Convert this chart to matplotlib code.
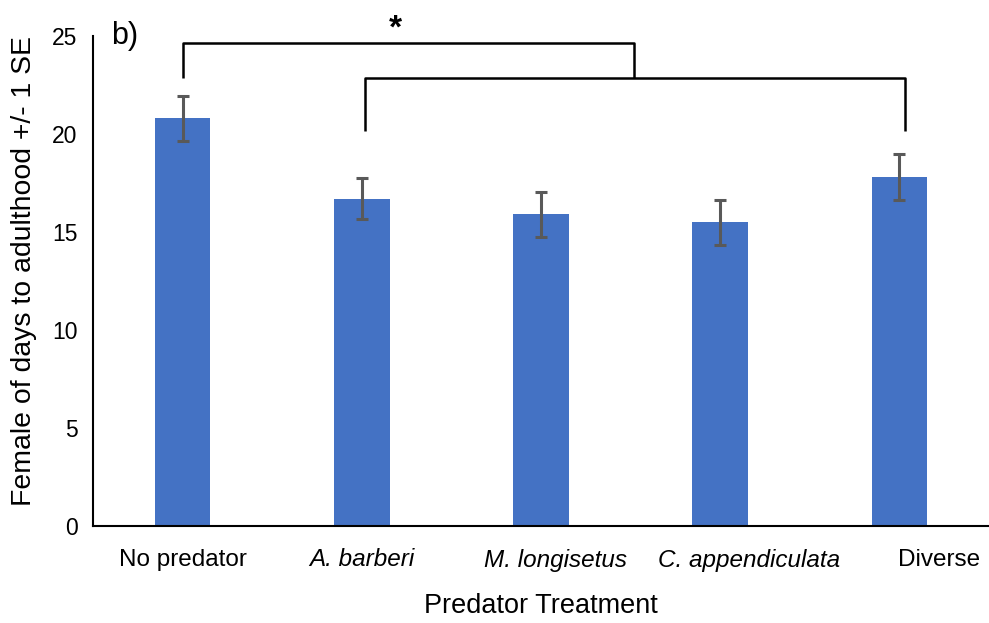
import matplotlib
matplotlib.use("Agg")
import matplotlib.pyplot as plt
import matplotlib.transforms as mtransforms
import numpy as np

plt.rcParams['font.family'] = ['Liberation Sans', 'DejaVu Sans']

categories = ["No predator", "A. barberi", "M. longisetus", "C. appendiculata", "Diverse"]
italic = [False, True, True, True, False]
means = [20.8, 16.7, 15.9, 15.5, 17.8]
se = [1.15, 1.05, 1.15, 1.15, 1.17]
yticks = [0, 5, 10, 15, 20, 25]
label_shift_px = [0, 0, 14, 29, 40]

fig = plt.figure(figsize=(9.89, 6.23), dpi=100)
ax = fig.add_axes([93/989, 1-526/623, 1-93/989, (526-36)/623])

x = np.arange(len(categories))
ax.bar(x, means, width=0.31, color="#4472C4", zorder=2)
ax.errorbar(x, means, yerr=se, fmt='none', ecolor="#595959", elinewidth=2.2,
            capsize=4.3, capthick=2.2, zorder=3)

ax.set_xlim(-0.5, 4.5)
ax.set_ylim(0, 25)
ax.set_yticks(yticks)
ax.set_yticklabels([str(v) for v in yticks], fontsize=16.5)
ax.set_xticks(x)
ax.set_xticklabels([])
for xi, cat, it, sh in zip(x, categories, italic, label_shift_px):
    tr = ax.get_xaxis_transform() + mtransforms.ScaledTranslation(sh/100, -34/100, fig.dpi_scale_trans)
    ax.text(xi, 0, cat, transform=tr, fontsize=17.5, ha='center', va='center',
            fontstyle='italic' if it else 'normal', clip_on=False)
ax.tick_params(axis='both', length=0)
ax.tick_params(axis='y', pad=11)

for s in ['top', 'right']:
    ax.spines[s].set_visible(False)
for s in ['left', 'bottom']:
    ax.spines[s].set_linewidth(1.5)
    ax.spines[s].set_color('black')

ax.set_ylabel("Female of days to adulthood +/- 1 SE", fontsize=20.4)
ax.yaxis.set_label_coords(-(93-37)/896, (526-271)/490)
ax.set_xlabel("Predator Treatment", fontsize=19.5)
ax.xaxis.set_label_coords(0.5, -(593-526)/490)

# significance brackets
lw = 1.8
top_y, mid_y = 24.65, 22.86
ax.plot([0, 0, 2.52, 2.52], [mid_y, top_y, top_y, mid_y], color='black', lw=lw, clip_on=False, solid_capstyle='butt', zorder=4)
ax.plot([1.02, 1.02, 4.03, 4.03], [20.15, mid_y, mid_y, 20.15], color='black', lw=lw, clip_on=False, solid_capstyle='butt', zorder=4)
ax.text(1.19, 25.35, "*", fontsize=24, fontweight='bold', ha='center', va='center', clip_on=False)

fig.text(111/989, 1-36/623, "b)", fontsize=22, ha='left', va='center')

fig.savefig("out.png", dpi=100)
